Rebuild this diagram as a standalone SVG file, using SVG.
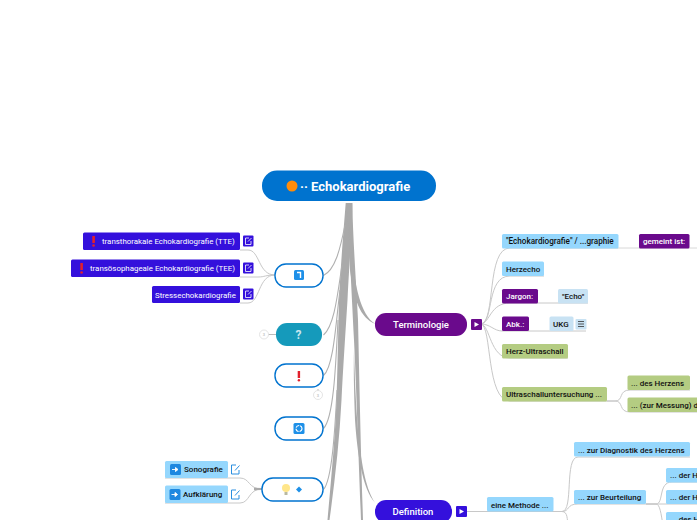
<svg xmlns="http://www.w3.org/2000/svg" width="697" height="520" viewBox="0 0 697 520">
<style>
text{font-family:Roboto,"Liberation Sans",sans-serif;font-size:8px;font-weight:500;fill:#111}
.w{fill:#fff}
.r{font-weight:400;font-size:7.9px}
.m{font-size:9.5px;fill:#fff;text-anchor:middle}
.trunk{fill:#aaaaaa}
.br{fill:none;stroke:#b0b0b0;stroke-width:1.1}
.thin{fill:none;stroke:#c8c8c8;stroke-width:1}
.ln{fill:none;stroke:#d8d8d8;stroke-width:1}
.blue{fill:#95d7fd}
.green{fill:#b4cc82}
.pale{fill:#c8e2f3}
.purple{fill:#6a0a8c}
.indigo{fill:#3410dc}
.outl{fill:#fff;stroke:#0073cf;stroke-width:1.4}
.ic{fill:none;stroke:#fff;stroke-width:.8}
.ol{fill:none;stroke:#2a8fe0;stroke-width:1}
.dot{fill:#fff;stroke:#ddd;stroke-width:.8}
</style>
<g id="connectors">
<path class="trunk" d="M345.700 203H352.300C352.500 225 350 250 347.500 300C345 340 343 370 341.500 400C339.500 440 335 480 329.500 520H327.500C331 480 335 440 336.500 400C337.500 370 338 340 339 300C341 260 344 225 345.700 203Z"/>
<path class="trunk" d="M347 203H352.300C353 240 356 280 358 320C359 360 360 420 363 520H361C358 440 356 380 354 340C352 300 349 240 347 203Z"/>
<path class="br" d="M345 225C340 250 335 270 323.500 275.500"/>
<path class="br" d="M342 265C338 290 335 325 323.500 335"/>
<path class="br" d="M340 290C336 320 334 366 323.500 375.500"/>
<path class="br" d="M338 320C336 360 334 418 323.500 428.500"/>
<path class="br" d="M337 390C335 430 332 480 323.500 489.500"/>
<path class="trunk" d="M350 225C352 260 355 312 375.500 324C360 318 354 300 350 270C349 250 349 240 350 225Z"/>
<path class="trunk" d="M354 350C355.500 400 358 480 375.500 503C362 490 357 450 355 420C354 390 353.500 370 354 350Z"/>
<path class="thin" d="M240 250H248C260 250 258 275 275 275"/>
<path class="thin" d="M240 277H258C265 277 265 275 275 275"/>
<path class="thin" d="M240 303H248C260 303 258 275 275 275"/>
<path class="thin" d="M165 478H240C250 478 248 489 262 489"/>
<path class="thin" d="M165 503H240C250 503 248 489 262 489"/>
<path d="M262 488L262 490L254 490.200L254 487.800Z" class="trunk"/>
<path d="M268 334.500H276M318 389V392" class="ln" style="stroke:#bbb"/>
<path class="thin" d="M481 324C496 322 486 248 510 248H618"/>
<path class="thin" d="M481 324C494 322 486 276 510 276H544"/>
<path class="thin" d="M481 324C490 323 490 303 510 303H588"/>
<path class="thin" d="M481 324C490 324 494 331 502 331H586"/>
<path class="thin" d="M481 324C490 325 490 358 510 358H568"/>
<path class="thin" d="M481 324C492 326 486 401 510 401H607"/>
<path class="ln" d="M618 248H697"/>
<path class="thin" d="M607 401H615C624 401 618 390 630 390H690"/>
<path class="thin" d="M607 401H615C624 401 618 412 630 412H697"/>
<path class="thin" d="M467 511.500H553"/>
<path class="thin" d="M553 511.500H562C574 511.500 564 457 578 457H690"/>
<path class="thin" d="M553 511.500H562C570 511.500 566 504 578 504H646"/>
<path class="thin" d="M553 511.500H562C568 511.500 567 520 568 525"/>
<path class="thin" d="M646 504H656C664 504 658 482 672 482H697"/>
<path class="thin" d="M646 504H697"/>
<path class="thin" d="M646 504H656C660 504 661 514 663 525"/>
</g>
<g id="root"><rect x="262" y="170.500" width="174" height="30.500" rx="15" fill="#0073cf"/>
<circle cx="292" cy="186" r="5.500" fill="#ff8c0a"/>
<text x="300" y="190.500" style="font-size:13px;font-weight:700" class="w">·· Echokardiografie</text></g>
<g id="n-types"><rect x="275" y="264" width="48" height="23" rx="11" class="outl"/>
<rect x="294" y="270" width="10" height="10" rx="1.500" fill="#1e90e8"/><path d="M297 272.500H300.500V278" class="ic" style="stroke-width:1.400"/></g>
<g id="n-tte"><rect x="83" y="232.500" width="157" height="17.500" rx="1.500" class="indigo"/>
<rect x="92.300" y="236" width="2.600" height="7" fill="#e2202c"/><circle cx="93.600" cy="245.500" r="1.300" fill="#e2202c"/>
<text x="102" y="244" class="w r">transthorakale Echokardiografie (TTE)</text>
<rect x="243" y="235.500" width="10.500" height="11" rx="1" class="indigo"/><path d="M249 238H245.500V244.500H251V241M248 241.500L251.500 238" class="ic"/></g>
<g id="n-tee"><rect x="71" y="259.500" width="169" height="17.500" rx="1.500" class="indigo"/>
<rect x="80.300" y="263" width="2.600" height="7" fill="#e2202c"/><circle cx="81.600" cy="272.500" r="1.300" fill="#e2202c"/>
<text x="90" y="271" class="w r">transösophageale Echokardiografie (TEE)</text>
<rect x="243" y="262.500" width="10.500" height="11" rx="1" class="indigo"/><path d="M249 265H245.500V271.500H251V268M248 268.500L251.500 265" class="ic"/></g>
<g id="n-stress"><rect x="152" y="286" width="88" height="17" rx="1.500" class="indigo"/>
<text x="155" y="297.500" class="w r">Stressechokardiografie</text>
<rect x="243" y="288.500" width="10.500" height="11" rx="1" class="indigo"/><path d="M249 291H245.500V297.500H251V294M248 294.500L251.500 291" class="ic"/></g>
<g id="n-question"><rect x="276" y="323" width="46" height="23" rx="11" fill="#159abb"/>
<text x="298.500" y="338.500" style="font-size:12px;font-weight:700;fill:#c8e6ee;text-anchor:middle">?</text>
<circle class="dot" cx="264" cy="334.500" r="4.500"/><text x="264" y="336" style="font-size:4px;fill:#bbb;text-anchor:middle">3</text></g>
<g id="n-alert"><rect x="275" y="364" width="48" height="23" rx="11" class="outl"/>
<rect x="297.700" y="371" width="2.400" height="7" fill="#e2202c"/><circle cx="298.900" cy="380.300" r="1.200" fill="#e2202c"/>
<circle class="dot" cx="318" cy="395" r="4.500"/><text x="318" y="396.500" style="font-size:4px;fill:#bbb;text-anchor:middle">3</text></g>
<g id="n-refresh"><rect x="275" y="417" width="48" height="23" rx="11" class="outl"/>
<rect x="293.500" y="423" width="11" height="11" rx="1.500" fill="#1e90e8"/><circle cx="299" cy="428.500" r="3" fill="none" stroke="#fff" stroke-width="1.100" stroke-dasharray="4 1"/></g>
<g id="n-idea"><rect x="262" y="478" width="61" height="23" rx="11" class="outl"/>
<circle cx="286" cy="488" r="4" fill="#ffe68a"/><rect x="284.500" y="492" width="3" height="3" fill="#b9b9a0"/>
<path d="M299 486.500L302 489.500L299 492.500L296 489.500Z" fill="#1e90e8"/></g>
<g id="n-sono"><rect x="165" y="461" width="63" height="17" rx="1.500" class="blue"/>
<rect x="170" y="464" width="11" height="11" rx="1.500" fill="#1e88e0"/><path d="M172 469.500H177M175.500 467.500L178 469.500L175.500 471.500Z" stroke="#fff" fill="#fff" stroke-width=".9"/>
<text x="184" y="472">Sonografie</text>
<path class="ol" d="M236 465H231.500V474H239V470M235 470.500L239.500 465.500"/></g>
<g id="n-aufk"><rect x="165" y="485.500" width="63" height="17.500" rx="1.500" class="blue"/>
<rect x="169.500" y="489" width="11" height="11" rx="1.500" fill="#1e88e0"/><path d="M171.500 494.500H176.500M175 492.500L177.500 494.500L175 496.500Z" stroke="#fff" fill="#fff" stroke-width=".9"/>
<text x="183" y="497">Aufklärung</text>
<path class="ol" d="M236 490H231.500V499H239V495M235 495.500L239.500 490.500"/></g>
<g id="n-term"><rect x="375" y="313" width="92" height="23" rx="11" class="purple"/>
<text x="421" y="328" class="m">Terminologie</text>
<rect x="471" y="319" width="11" height="11" rx="1" class="purple"/><path d="M474.500 322V327L479 324.500Z" fill="#fff"/></g>
<g id="n-echo"><rect x="502" y="234" width="116.500" height="14.500" rx="1.500" class="blue"/><text x="506" y="244" style="font-size:8.150px">"Echokardiografie" / ...graphie</text></g>
<g id="n-gemeint"><rect x="639" y="234" width="50.500" height="14.500" rx="1.500" class="purple"/><text x="643" y="244" class="w">gemeint ist:</text></g>
<g id="n-herzecho"><rect x="502" y="261.500" width="42" height="14.500" rx="1.500" class="blue"/><text x="506" y="272">Herzecho</text></g>
<g id="n-jargon"><rect x="502" y="289" width="36" height="14.500" rx="1.500" class="purple"/><text x="506" y="299" class="w">Jargon:</text></g>
<g id="n-echo2"><rect x="558" y="289" width="30" height="14.500" rx="1.500" class="pale"/><text x="562" y="299">"Echo"</text></g>
<g id="n-abk"><rect x="502" y="316.500" width="27" height="14.500" rx="1.500" class="purple"/><text x="506" y="327" class="w">Abk.:</text></g>
<g id="n-ukg"><rect x="549.500" y="316.500" width="24" height="14.500" rx="1.500" class="pale"/><text x="553" y="327">UKG</text>
<rect x="575.500" y="319" width="11" height="10.500" rx="1" class="pale"/><path d="M578 321.500H584M578 324H584M578 326.500H584" stroke="#333" stroke-width=".8"/></g>
<g id="n-herzus"><rect x="502" y="344" width="66" height="14.500" rx="1.500" class="green"/><text x="506" y="354">Herz-Ultraschall</text></g>
<g id="n-us"><rect x="502" y="387" width="105" height="14.500" rx="1.500" class="green"/><text x="506" y="397">Ultraschalluntersuchung ...</text></g>
<g id="n-desh"><rect x="627.500" y="375.500" width="62.500" height="14.500" rx="1.500" class="green"/><text x="631" y="386">... des Herzens</text></g>
<g id="n-mess"><rect x="627.500" y="397.500" width="75" height="14.500" rx="1.500" class="green"/><text x="631" y="408">... (zur Messung) d</text></g>
<g id="n-def"><rect x="375" y="500" width="77" height="23" rx="11" class="indigo"/>
<text x="413" y="515" class="m">Definition</text>
<rect x="456" y="506" width="11" height="11" rx="1" class="indigo"/><path d="M459.500 509V514L464 511.500Z" fill="#fff"/></g>
<g id="n-meth"><rect x="487" y="497" width="66.500" height="14.500" rx="1.500" class="blue"/><text x="491" y="507.500">eine Methode ...</text></g>
<g id="n-diag"><rect x="574" y="442" width="116" height="14.500" rx="1.500" class="blue"/><text x="578" y="452.500">... zur Diagnostik des Herzens</text></g>
<g id="n-beur"><rect x="574" y="490" width="72" height="14" rx="1.500" class="blue"/><text x="578" y="500">... zur Beurteilung</text></g>
<g id="n-h1"><rect x="666" y="468" width="40" height="14.500" rx="1.500" class="blue"/><text x="670" y="478">... der H</text></g>
<g id="n-h2"><rect x="666" y="490" width="40" height="14" rx="1.500" class="blue"/><text x="670" y="500">... der H</text></g>
<g id="n-h3"><rect x="666" y="512" width="40" height="14" rx="1.500" class="blue"/><text x="670" y="522">... des H</text></g>
</svg>
